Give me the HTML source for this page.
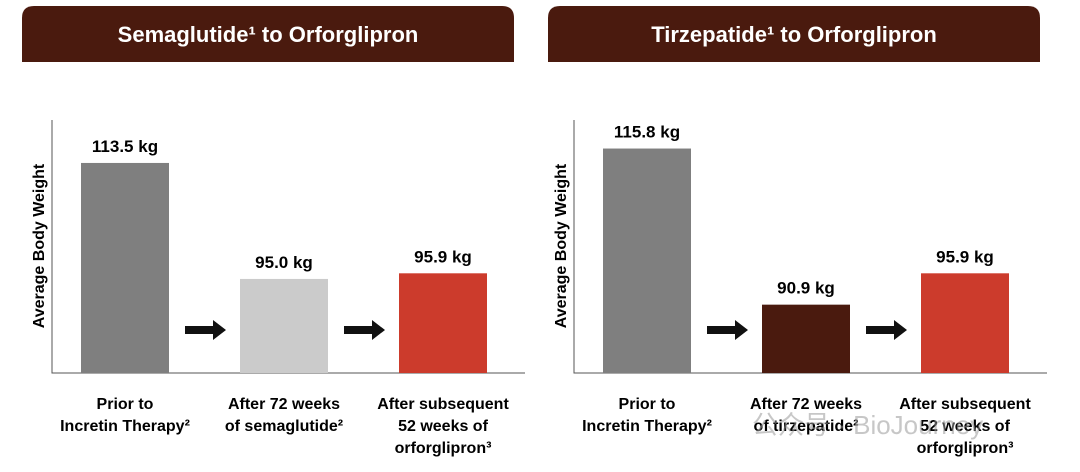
<!DOCTYPE html>
<html><head><meta charset="utf-8"><style>
body{margin:0;background:#fff;width:1080px;height:467px;overflow:hidden;font-family:"Liberation Sans",Arial,sans-serif}
svg text{font-family:"Liberation Sans",Arial,sans-serif;font-weight:bold}
</style></head><body>
<svg id="chart" width="1080" height="467"></svg>
<script>
const leftCats=["Prior to|Incretin Therapy²","After 72 weeks|of semaglutide²","After subsequent|52 weeks of|orforglipron³"];
const leftVals=[113.5,95.0,95.9];
const leftLabels=["113.5 kg","95.0 kg","95.9 kg"];
const rightCats=["Prior to|Incretin Therapy²","After 72 weeks|of tirzepatide²","After subsequent|52 weeks of|orforglipron³"];
const rightVals=[115.8,90.9,95.9];
const rightLabels=["115.8 kg","90.9 kg","95.9 kg"];
const titles=["Semaglutide¹ to Orforglipron","Tirzepatide¹ to Orforglipron"];
const colorsL=["#7f7f7f","#cbcbcb","#cc3b2c"];
const colorsR=["#7f7f7f","#4a1a0e","#cc3b2c"];
const NS="http://www.w3.org/2000/svg";
const svg=document.getElementById('chart');
function mk(t,a,p){const e=document.createElementNS(NS,t);for(const k in a)e.setAttribute(k,a[k]);(p||svg).appendChild(e);return e;}
const baseY=373,yMin=80,pxPerKg=6.27;
function y(v){return baseY-(v-yMin)*pxPerKg;}
function panel(ox,hx,title,cats,vals,labs,cols,key){
  const g=mk('g',{});
  
  
  const h=mk('path',{d:`M${hx},62 L${hx},18 Q${hx},6 ${hx+12},6 L${hx+480},6 Q${hx+492},6 ${hx+492},18 L${hx+492},62 Z`,fill:'#4a1a0e'},g);
  
  
  const tt=mk('text',{x:hx+246,y:42,'text-anchor':'middle',fill:'#fff','font-size':22},g);
  tt.textContent=title;
  
  
  const ax=mk('path',{d:`M${ox},120 L${ox},${baseY} L${ox+473},${baseY}`,stroke:'#555',fill:'none','stroke-width':1},g);
  
  
  const yt=mk('text',{transform:`translate(${ox-8},246) rotate(-90)`,'text-anchor':'middle','font-size':16,fill:'#000'},g);
  yt.textContent='Average Body Weight';
  
  
  vals.forEach((v,i)=>{
    const bx=ox+29+i*159;
    const r=mk('rect',{x:bx,y:y(v),width:88,height:baseY-y(v),fill:cols[i]},g);
    
    
    const t=mk('text',{x:bx+44,y:y(v)-11,'text-anchor':'middle','font-size':17,fill:'#000'},g);
    t.textContent=labs[i];
    
    
    cats[i].split('|').forEach((ln,j)=>{
      const c=mk('text',{x:bx+44,y:409+j*22,'text-anchor':'middle','font-size':16,fill:'#000'},g);
      c.textContent=ln;
      
      
    });
    if(i<2){
      const a0=bx+104;
      const ar=mk('path',{d:`M${a0},326 L${a0+28},326 L${a0+28},320 L${a0+41},330 L${a0+28},340 L${a0+28},334 L${a0},334 Z`,fill:'#111'},g);
      
      
    }
  });
}
panel(52,22,titles[0],leftCats,leftVals,leftLabels,colorsL,'left');
panel(574,548,titles[1],rightCats,rightVals,rightLabels,colorsR,'right');
const wm=mk('text',{x:752,y:434,'font-size':26,fill:'#999','fill-opacity':0.55});
wm.style.fontWeight='normal';
wm.textContent='公众号 · BioJourney';
wm.setAttribute('font-family','"Liberation Sans","Noto Sans CJK SC",sans-serif');


</script>
</body></html>
